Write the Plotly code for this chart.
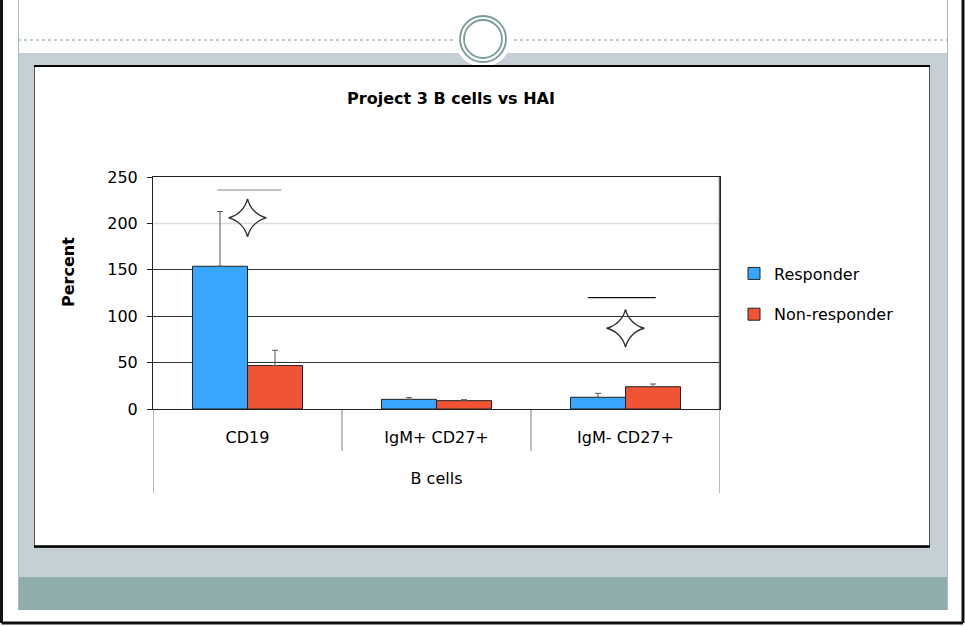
import plotly.graph_objects as go

# ---- data ----
categories = ["CD19", "IgM+ CD27+", "IgM- CD27+"]
group_label = "B cells"
responder = [153.8, 10.4, 12.6]
responder_err = [59.0, 1.8, 4.3]
non_responder = [46.8, 9.0, 24.0]
non_responder_err = [16.5, 1.0, 2.9]
sig_categories = ["CD19", "IgM- CD27+"]
sig_star_y = [206, 87]
sig_bar_y = [236, 120]
y_ticks = [0, 50, 100, 150, 200, 250]

W, H = 965, 626
FONT = "DejaVu Sans"
BLUE = "#38A6FF"
RED = "#F05434"


def px(x):
    return x / W


def py(y):
    return 1 - y / H


fig = go.Figure()

fig.add_trace(go.Bar(
    x=categories, y=responder, name="Responder", legendgroup="r",
    marker=dict(color=BLUE, line=dict(color="#222", width=1)),
    error_y=dict(type="data", symmetric=False, array=responder_err,
                 arrayminus=[0] * len(responder), color="#555", thickness=1, width=3),
))
fig.add_trace(go.Bar(
    x=categories, y=non_responder, name="Non-responder", legendgroup="n",
    marker=dict(color=RED, line=dict(color="#222", width=1)),
    error_y=dict(type="data", symmetric=False, array=non_responder_err,
                 arrayminus=[0] * len(non_responder), color="#555", thickness=1, width=3),
))
fig.add_trace(go.Scatter(
    x=sig_categories, y=sig_star_y, mode="markers", showlegend=False,
    marker=dict(symbol="star-diamond-open", size=27, color="#333", line=dict(width=1.4, color="#333")),
    hoverinfo="skip",
))


def pshape(**kw):
    kw.setdefault("xref", "paper")
    kw.setdefault("yref", "paper")
    kw.setdefault("layer", "below")
    fig.add_shape(**kw)


# outer slide frame
pshape(type="line", x0=px(1.5), x1=px(1.5), y0=py(0), y1=py(623), line=dict(color="#111", width=3))
pshape(type="line", x0=px(963), x1=px(963), y0=py(0), y1=py(623), line=dict(color="#111", width=3))
pshape(type="line", x0=px(1.5), x1=px(963), y0=py(623), y1=py(623), line=dict(color="#111", width=3))
# grey panel and teal band
pshape(type="rect", x0=px(18), x1=px(948), y0=py(577), y1=py(53), fillcolor="#c5d0d6", line=dict(width=0))
pshape(type="rect", x0=px(18), x1=px(948), y0=py(610), y1=py(577), fillcolor="#8fadad", line=dict(width=0))
# thin side lines of the slide content
pshape(type="line", x0=px(18.5), x1=px(18.5), y0=py(0), y1=py(610), line=dict(color="#a9bcbc", width=1))
pshape(type="line", x0=px(947.5), x1=px(947.5), y0=py(0), y1=py(610), line=dict(color="#a9bcbc", width=1))
# dotted line
pshape(type="line", x0=px(18), x1=px(453), y0=py(40), y1=py(40), line=dict(color="#7fa3a3", width=1, dash="dot"))
pshape(type="line", x0=px(514), x1=px(948), y0=py(40), y1=py(40), line=dict(color="#7fa3a3", width=1, dash="dot"))
# white cutout and rings
pshape(type="circle", x0=px(483 - 28), x1=px(483 + 28), y0=py(39 + 28), y1=py(39 - 28), fillcolor="white", line=dict(width=0))
pshape(type="circle", x0=px(483 - 23), x1=px(483 + 23), y0=py(39 + 23), y1=py(39 - 23), line=dict(color="#7a9c9c", width=1.8))
pshape(type="circle", x0=px(483 - 19), x1=px(483 + 19), y0=py(39 + 19), y1=py(39 - 19), line=dict(color="#7a9c9c", width=1.8))
# white chart box
pshape(type="rect", x0=px(34.5), x1=px(929.5), y0=py(547), y1=py(66), fillcolor="white", line=dict(color="#555", width=1))
pshape(type="line", x0=px(34), x1=px(930), y0=py(66), y1=py(66), line=dict(color="#000", width=2))
pshape(type="line", x0=px(34), x1=px(930), y0=py(546.5), y1=py(546.5), line=dict(color="#000", width=2.5))

# category axis group box lines
fig.add_shape(type="line", xref="x", yref="paper", x0=-0.5, x1=-0.5, y0=py(493), y1=py(409), line=dict(color="#bbb", width=2), layer="below")
fig.add_shape(type="line", xref="x", yref="paper", x0=2.5, x1=2.5, y0=py(493), y1=py(409), line=dict(color="#bbb", width=2), layer="below")
fig.add_shape(type="line", xref="x", yref="paper", x0=0.5, x1=0.5, y0=py(451), y1=py(409), line=dict(color="#aaa", width=1.5), layer="below")
fig.add_shape(type="line", xref="x", yref="paper", x0=1.5, x1=1.5, y0=py(451), y1=py(409), line=dict(color="#aaa", width=1.5), layer="below")
# right plot border thicker grey
fig.add_shape(type="line", xref="x", yref="y", x0=2.5, x1=2.5, y0=0, y1=250, line=dict(color="#666", width=2.5), layer="above")
# lighter 200 gridline
fig.add_shape(type="line", xref="x", yref="y", x0=-0.5, x1=2.5, y0=200, y1=200, line=dict(color="#ddd", width=1.5), layer="between")
# significance bars
fig.add_shape(type="line", xref="x", yref="y", x0=-0.16, x1=0.18, y0=sig_bar_y[0], y1=sig_bar_y[0], line=dict(color="#888", width=1))
fig.add_shape(type="line", xref="x", yref="y", x0=1.80, x1=2.16, y0=sig_bar_y[1], y1=sig_bar_y[1], line=dict(color="#111", width=1.3))

# y-axis title (placed like the original, above the plot's vertical centre)
fig.add_annotation(text="<b>Percent</b>", xref="paper", yref="paper", x=px(68), y=py(272),
                   textangle=-90, showarrow=False, xanchor="center", yanchor="middle",
                   font=dict(family=FONT, size=16, color="#000"))

fig.update_layout(
    width=W, height=H,
    margin=dict(l=0, r=0, t=0, b=0, pad=0, autoexpand=False),
    paper_bgcolor="white", plot_bgcolor="rgba(0,0,0,0)",
    font=dict(family=FONT, color="#000", size=16),
    barmode="group", bargap=0.418, bargroupgap=0,
    title=dict(text="<b>Project 3 B cells vs HAI</b>", xref="paper", yref="paper",
               x=px(451), y=py(98), xanchor="center", yanchor="middle", automargin=False,
               font=dict(family=FONT, size=16, color="#000")),
    xaxis=dict(domain=[px(153), px(720)], type="category", range=[-0.5, 2.5], automargin=False,
               showline=True, mirror=True, linecolor="#222", linewidth=1,
               ticks="outside", ticklen=14, tickcolor="rgba(0,0,0,0)",
               tickfont=dict(size=16), showgrid=False,
               title=dict(text=group_label, standoff=26, font=dict(size=16))),
    yaxis=dict(domain=[py(409), py(177)], range=[0, 250], tickvals=y_ticks, automargin=False,
               showline=True, mirror=True, linecolor="#222", linewidth=1,
               ticks="outside", ticklen=5, tickcolor="#222",
               showgrid=True, gridcolor="#333", gridwidth=1, zeroline=False,
               tickfont=dict(size=16), ticklabelstandoff=6),
    legend=dict(x=px(734), y=py(256.5), xanchor="left", yanchor="top",
                bgcolor="rgba(0,0,0,0)", tracegroupgap=17,
                font=dict(size=16, family=FONT)),
    showlegend=True,
)

fig.write_html("out.html", config={"displayModeBar": False},
               post_script="document.body.style.margin='0px';")
